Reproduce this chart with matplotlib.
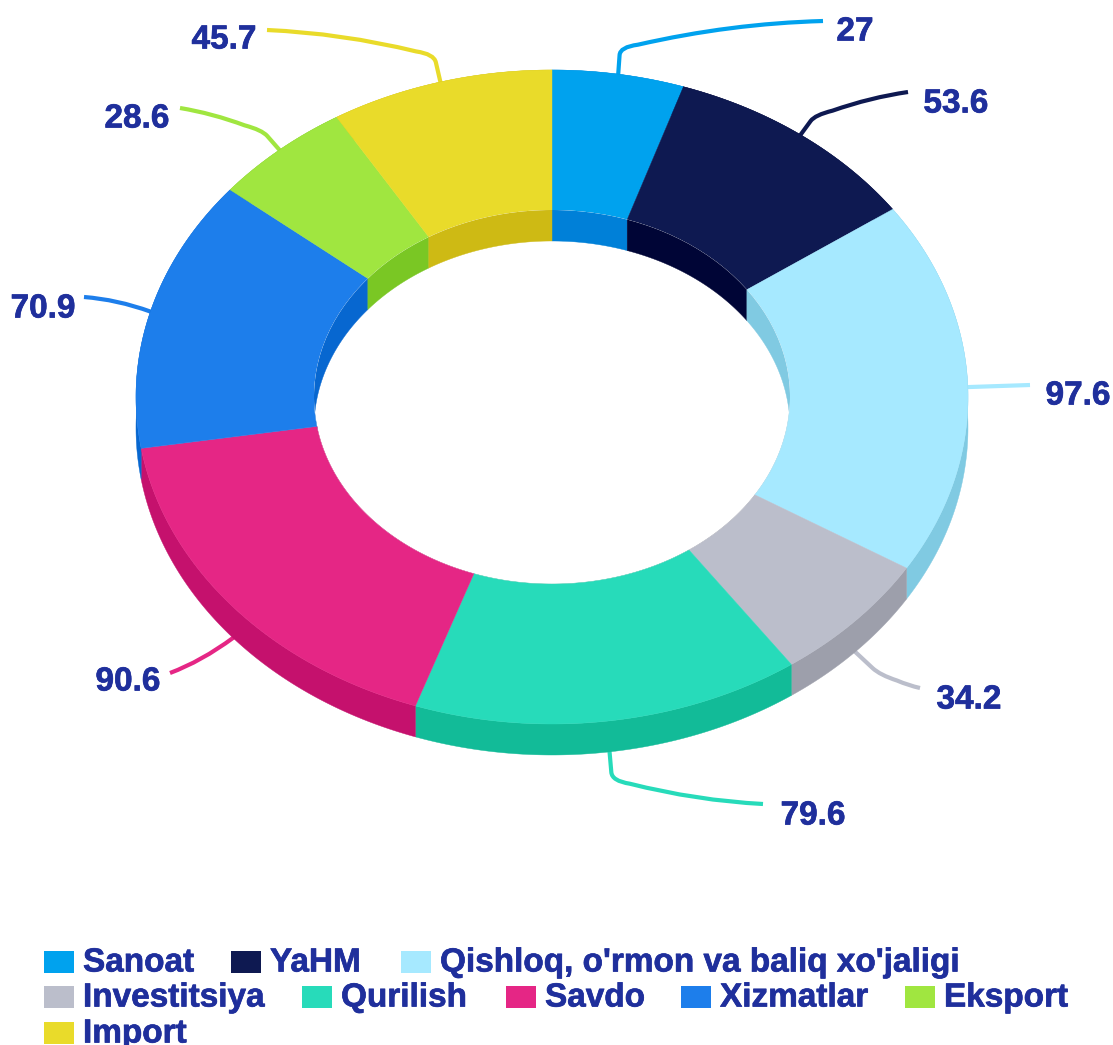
import numpy as np
import matplotlib
matplotlib.use('Agg')
import matplotlib.pyplot as plt
import matplotlib.patheffects as pe
from matplotlib.patches import Polygon, Ellipse, Rectangle, PathPatch
from matplotlib.path import Path

plt.rcParams['font.family'] = ['Liberation Sans', 'DejaVu Sans']

# Donnees
categories = ['Sanoat', 'YaHM', "Qishloq, o'rmon va baliq xo'jaligi", 'Investitsiya',
              'Qurilish', 'Savdo', 'Xizmatlar', 'Eksport', 'Import']
values = [27, 53.6, 97.6, 34.2, 79.6, 90.6, 70.9, 28.6, 45.7]
value_labels = ['27', '53.6', '97.6', '34.2', '79.6', '90.6', '70.9', '28.6', '45.7']
colors = ['#00A2EE', '#0E1951', '#A6E9FF', '#BBBECB', '#27DBBA', '#E52685', '#1D7EEB', '#A0E640', '#E9DB2A']
wall_colors = ['#0080D8', '#000536', '#80CAE2', '#9D9FAB', '#12BB98', '#C5116D', '#0767D0', '#7AC724', '#CEBA14']

# Geometrie de l'anneau (pixels)
cx, cy = 552, 397
rx, ry = 416, 327
inner_rx, inner_ry = 238, 187
depth = 31

# Etiquettes : coude, extremite, position du texte
elbows = [(620, 47), (815, 115), None, (880, 675), (612, 781), None, None, (262, 130), (434, 54)]
ends = [(823, 21), (908, 92), (1030, 385), (920, 688), (763, 804), (170, 673), (84, 297), (180, 108), (267, 30)]
text_pos = [(855, 32), (956, 104), (1078, 396), (969, 700), (813, 816), (128, 682), (43, 309), (137, 119), (224, 40)]

# Legende
legend_x = [44, 231, 401, 44, 302, 506, 681, 905, 44]
legend_y = [962, 962, 962, 997, 997, 997, 997, 997, 1033]
text_color = '#1F2F9C'
heavy = [pe.withStroke(linewidth=0.5, foreground=text_color)]


def ellipse_arc(a0, a1, ax_x, ax_y, dy=0):
    t = np.radians(np.linspace(a0, a1, 120))
    return np.column_stack([cx + ax_x * np.sin(t), cy - ax_y * np.cos(t) + dy])


def ring(arc_a, arc_b):
    return np.vstack([arc_a, arc_b[::-1]])


fig = plt.figure(figsize=(11.13, 10.45), dpi=100)
ax = fig.add_axes([0, 0, 1, 1])
ax.set_xlim(0, 1113)
ax.set_ylim(1045, 0)
ax.axis('off')

edges = np.concatenate([[0], np.cumsum(values)]) / np.sum(values) * 360

# Traits de rappel, sous l'anneau
for i in range(len(values)):
    mid_r = np.radians((edges[i] + edges[i + 1]) / 2)
    dy = depth if np.cos(mid_r) < 0 else 0
    start = np.array([cx + rx * np.sin(mid_r), cy - ry * np.cos(mid_r) + dy])
    start_in = start - 4 * np.array([np.sin(mid_r), -np.cos(mid_r)])
    end = np.array(ends[i], dtype=float)
    if elbows[i] is None:
        bend = {2: 0, 5: 0.08, 6: -0.07}[i]
        ctrl = (start + end) / 2 + np.array([0, bend]) * np.linalg.norm(end - start)
        verts = [start_in, start, ctrl, end]
        codes = [Path.MOVETO, Path.LINETO, Path.CURVE3, Path.CURVE3]
    else:
        corner = np.array(elbows[i], dtype=float)
        a = corner + (start - corner) * 0.3
        to_end = end - corner
        b = corner + to_end / np.linalg.norm(to_end) * 18
        ctrl = (b + end) / 2 - np.array([0, 0.05]) * np.linalg.norm(end - b) * np.sign(corner[1] - end[1])
        verts = [start_in, a, corner, b, ctrl, end]
        codes = [Path.MOVETO, Path.LINETO, Path.CURVE3, Path.CURVE3, Path.CURVE3, Path.CURVE3]
    ax.add_patch(PathPatch(Path(verts, codes), fc='none', ec=colors[i], lw=3, capstyle='butt', zorder=1))
    ax.text(text_pos[i][0], text_pos[i][1], value_labels[i], color=text_color, fontsize=24,
            fontweight='bold', ha='center', va='center', zorder=6, path_effects=heavy)

# Parois exterieures
for i in range(len(values)):
    top = ellipse_arc(edges[i], edges[i + 1], rx, ry)
    bottom = ellipse_arc(edges[i], edges[i + 1], rx, ry, depth)
    ax.add_patch(Polygon(ring(top, bottom), fc=wall_colors[i], ec=wall_colors[i], lw=0.3, zorder=2))

# Face superieure
for i in range(len(values)):
    outer = ellipse_arc(edges[i], edges[i + 1], rx, ry)
    inner = ellipse_arc(edges[i], edges[i + 1], inner_rx, inner_ry)
    ax.add_patch(Polygon(ring(outer, inner), fc=colors[i], ec=colors[i], lw=0.3, zorder=3))

# Paroi interieure, limitee au trou
hole = Ellipse((cx, cy), 2 * inner_rx, 2 * inner_ry, fc='white', ec='none', zorder=3.5)
ax.add_patch(hole)
for i in range(len(values)):
    top = ellipse_arc(edges[i], edges[i + 1], inner_rx, inner_ry)
    bottom = ellipse_arc(edges[i], edges[i + 1], inner_rx, inner_ry, depth)
    wall = Polygon(ring(top, bottom), fc=wall_colors[i], ec=wall_colors[i], lw=0.3, zorder=4)
    ax.add_patch(wall)
    wall.set_clip_path(hole)

# Legende
for name, color, x, y in zip(categories, colors, legend_x, legend_y):
    ax.add_patch(Rectangle((x, y - 11), 30, 22, fc=color, ec='none', zorder=5))
    ax.text(x + 39, y + 1, name, color=text_color, fontsize=24, fontweight='bold', ha='left',
            va='center', zorder=6, path_effects=heavy)

fig.savefig('out.png', dpi=100)
